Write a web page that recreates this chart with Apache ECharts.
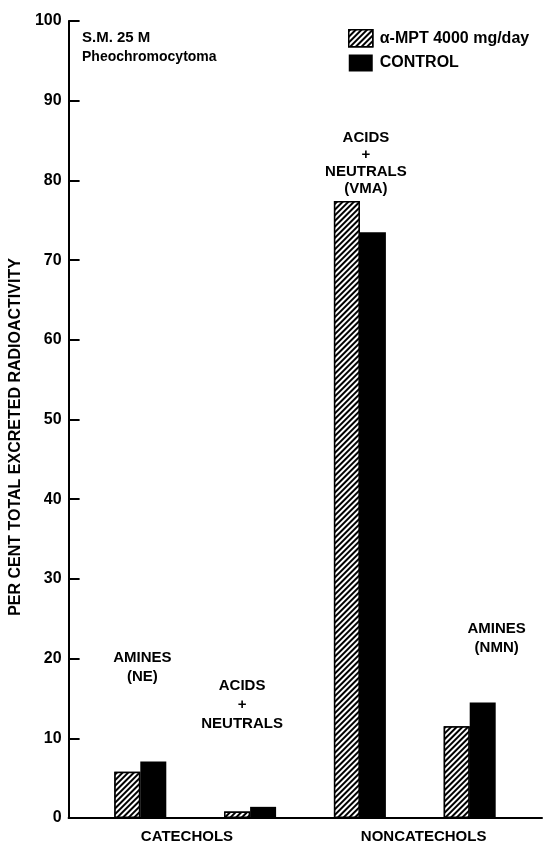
<!DOCTYPE html>
<html>
<head>
<meta charset="utf-8">
<script src="https://cdn.jsdelivr.net/npm/echarts@6/dist/echarts.min.js"></script>
<style>html,body{margin:0;padding:0;background:#fff;}#c{width:554px;height:845px;}</style>
</head>
<body>
<div id="c"></div>
<script>
// ---- data ----
const groups = ['AMINES (NE)', 'ACIDS + NEUTRALS', 'ACIDS + NEUTRALS (VMA)', 'AMINES (NMN)'];
const classes = ['CATECHOLS', 'NONCATECHOLS'];
const seriesNames = ['α-MPT 4000 mg/day', 'CONTROL'];
const amptValues = [5.8, 0.8, 77.4, 11.5];
const controlValues = [7.1, 1.4, 73.5, 14.5];
const groupLabels = ['AMINES\n(NE)', 'ACIDS\n+\nNEUTRALS', 'ACIDS\n+\nNEUTRALS\n(VMA)', 'AMINES\n(NMN)'];
const yMin = 0, yMax = 100, yStep = 10;
const yTitle = 'PER CENT TOTAL EXCRETED RADIOACTIVITY';
const subjectLines = ['S.M. 25 M', 'Pheochromocytoma'];

// ---- layout (annotation anchors, in axis units / px offsets) ----
const labelAnchorY = [18.9, 14.2, 82.2, 22.6];
const labelOffsetX = [15, 5, 19, 40];
const labelLineHeight = [19, 19, 17, 19];

const FONT = 'Liberation Sans';
const chart = echarts.init(document.getElementById('c'), null, {renderer: 'canvas'});

const hatch = {
  symbol: 'rect',
  symbolSize: 1,
  dashArrayX: [1, 0],
  dashArrayY: [2, 2],
  rotation: -Math.PI / 4,
  color: '#000',
  backgroundColor: '#fff'
};

const TOP = 21, BOTTOM = 27;

const option = {
  backgroundColor: '#fff',
  animation: false,
  title: {
    text: subjectLines[0],
    subtext: subjectLines[1],
    left: 82, top: 30, itemGap: 5, padding: 0,
    textStyle: {fontFamily: FONT, fontSize: 15, fontWeight: 'bold', color: '#000', lineHeight: 15},
    subtextStyle: {fontFamily: FONT, fontSize: 14, fontWeight: 'bold', color: '#000', lineHeight: 14}
  },
  legend: {
    orient: 'vertical', left: 348, top: 29, padding: 0,
    itemWidth: 24, itemHeight: 17, itemGap: 7, icon: 'rect',
    textStyle: {fontFamily: FONT, fontSize: 16, fontWeight: 'bold', color: '#000', padding: [0,0,0,2]},
    data: [
      {name: seriesNames[0], icon: 'rect', itemStyle: {color: '#fff', borderColor: '#000', borderWidth: 1.5, decal: hatch}},
      {name: seriesNames[1], icon: 'rect', itemStyle: {color: '#000'}}
    ]
  },
  grid: [
    {left: 85.4, right: 29.4, top: TOP, bottom: BOTTOM},
    {left: 67, right: 12, top: TOP, bottom: BOTTOM}
  ],
  xAxis: [
    {type: 'category', gridIndex: 0, data: groups, show: false},
    {type: 'category', gridIndex: 1, data: classes,
     axisLine: {lineStyle: {color: '#000', width: 2}},
     axisTick: {show: false},
     axisLabel: {fontFamily: FONT, fontSize: 15, fontWeight: 'bold', color: '#000', margin: 11}}
  ],
  yAxis: [
    {type: 'value', gridIndex: 0, min: yMin, max: yMax, interval: yStep, show: false},
    {type: 'value', gridIndex: 1, min: yMin, max: yMax, interval: yStep,
     axisLine: {show: true, lineStyle: {color: '#000', width: 2}},
     axisTick: {show: true, inside: true, length: 11, lineStyle: {color: '#000', width: 2}},
     splitLine: {show: false},
     axisLabel: {fontFamily: FONT, fontSize: 16, fontWeight: 'bold', color: '#000', margin: 7},
     name: yTitle, nameLocation: 'middle', nameRotate: 90, nameGap: 40,
     nameTextStyle: {fontFamily: FONT, fontSize: 16, fontWeight: 'bold', color: '#000', padding: [0, 35, 0, 0]}}
  ],
  series: [
    {
      name: seriesNames[0], type: 'bar', xAxisIndex: 0, yAxisIndex: 0,
      data: amptValues, barWidth: 26, barGap: '0%',
      itemStyle: {color: '#fff', borderColor: '#000', borderWidth: 1.5, decal: hatch},
      markPoint: {
        symbol: 'circle', symbolSize: 0, silent: true,
        data: groups.map((g, i) => ({
          coord: [i, labelAnchorY[i]],
          label: {
            show: true, position: 'inside', formatter: groupLabels[i], offset: [labelOffsetX[i], 0],
            fontFamily: FONT, fontSize: 15, fontWeight: 'bold', color: '#000',
            lineHeight: labelLineHeight[i], align: 'center'
          }
        }))
      }
    },
    {
      name: seriesNames[1], type: 'bar', xAxisIndex: 0, yAxisIndex: 0,
      data: controlValues, barWidth: 26, barGap: '0%',
      itemStyle: {color: '#000'}
    }
  ]
};
chart.setOption(option);
</script>
</body>
</html>
